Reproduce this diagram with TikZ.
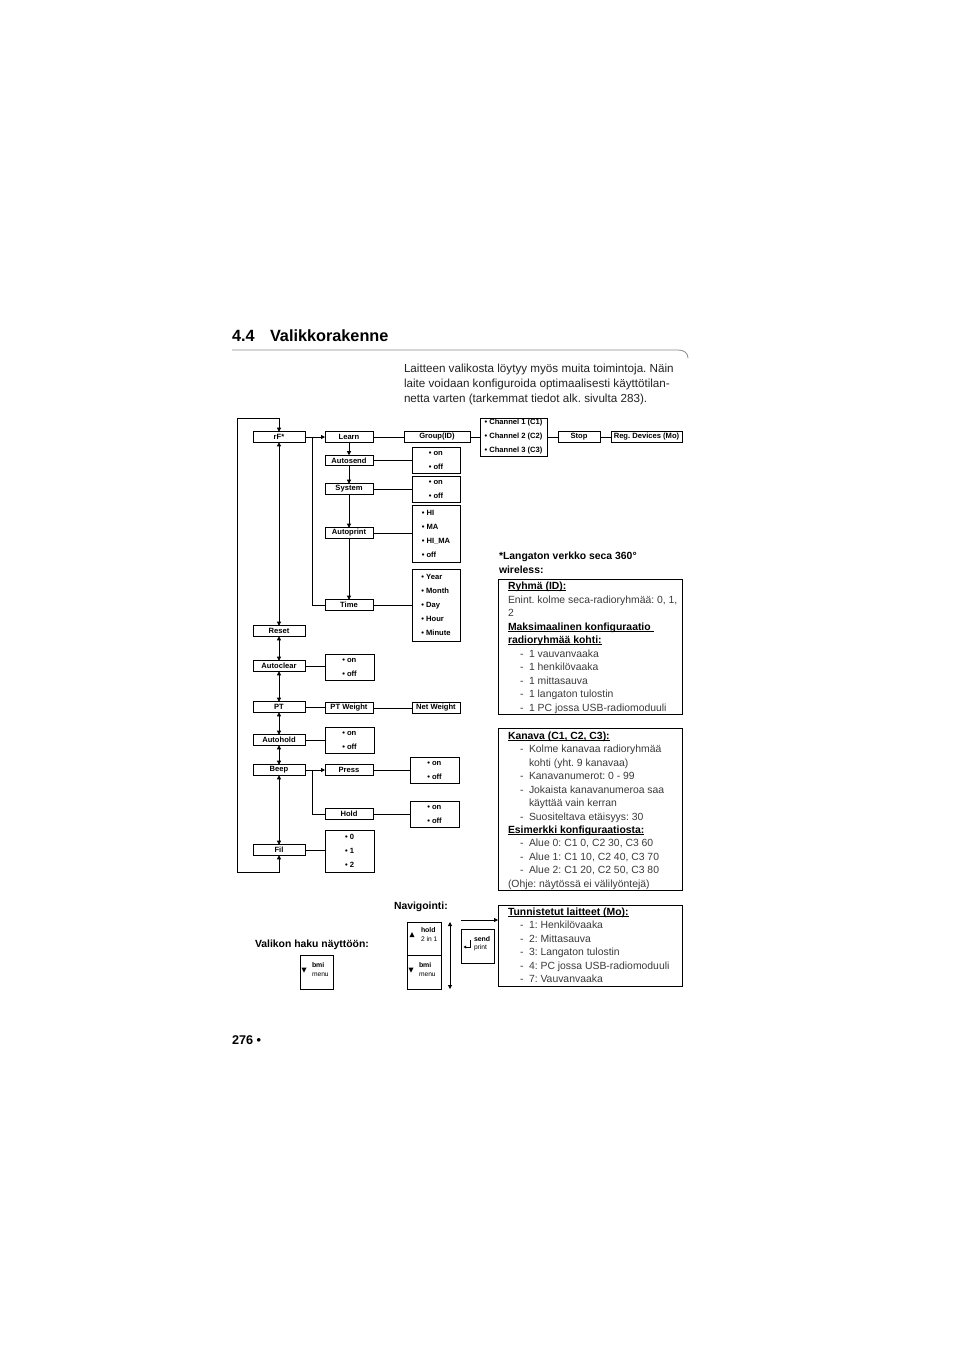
\documentclass[tikz,border=0pt]{standalone}
\usepackage{fontspec}
\setmainfont{Liberation Sans}
\usetikzlibrary{arrows.meta}
\definecolor{bodyc}{HTML}{3A3A3A}
\definecolor{rulec}{HTML}{8A8A8A}
\definecolor{parac}{HTML}{222222}
\newcommand\fs[2]{\fontsize{#1}{#2}\selectfont}
\newcommand\myul[1]{\setbox0\hbox{#1}\rlap{\rule[-1.3pt]{\wd0}{0.55pt}}\box0}
\newcommand\dsh{\makebox[6.75pt][l]{-}}
\frenchspacing
\begin{document}
\begin{tikzpicture}[x=0.75pt,y=-0.75pt,
  every node/.style={inner sep=0pt, outer sep=0pt},
  lbl/.style={draw, line width=0.7pt, minimum height=7.9pt, font=\bfseries\fs{5.7}{6}},
  lbox/.style={lbl, minimum width=39pt},
  mbox/.style={lbl, minimum width=36pt},
  opt/.style={draw, line width=0.7pt, align=left, font=\bfseries\fs{5.7}{10.5}},
  frame/.style={draw, line width=0.7pt, minimum width=138pt},
  ln/.style={line width=0.6pt},
  arr/.style={ln, -{Triangle[length=3pt,width=3pt]}},
  darr/.style={ln, {Triangle[length=3pt,width=3pt]}-{Triangle[length=3pt,width=3pt]}},
  txt/.style={anchor=base west, text=bodyc, font=\fs{7.8}{10}},
  hdr/.style={anchor=base west, text=black, font=\bfseries\fs{7.8}{10}},
  para/.style={anchor=base west, text=parac, font=\fs{8.75}{11}},
  btn/.style={draw, line width=0.6pt},
  bb/.style={anchor=base west, font=\bfseries\fs{5.2}{6}},
  bs/.style={anchor=base west, font=\fs{5}{6}},
]
\useasboundingbox (0,0) rectangle (954,1347);

% ---- header ----
\node[anchor=base west, font=\bfseries\fs{12.2}{14}] (tn) at (232,341.5) {4.4};
\node[anchor=base west, font=\bfseries\fs{12.2}{14}] (tt) at (270,341.5) {Valikkorakenne};
\draw[rulec, line width=0.6pt] (232,350) -- (678,350) .. controls (684,350) and (688,353) .. (688,358);
\node[para] (p1) at (404,372) {Laitteen valikosta löytyy myös muita toimintoja. Näin};
\node[para] (p2) at (404,387) {laite voidaan konfiguroida optimaalisesti käyttötilan-};
\node[para] (p3) at (404,402) {netta varten (tarkemmat tiedot alk. sivulta 283).};

% ---- left column ----
\node[lbox] (rf) at (279,437) {rF*};
\node[lbox] (reset) at (279,631) {Reset};
\node[lbox] (autoclear) at (279,666) {Autoclear};
\node[lbox] (pt) at (279,707) {PT};
\node[lbox] (autohold) at (279,740) {Autohold};
\node[lbox] (beep) at (279,770) {Beep};
\node[lbox] (fil) at (279,850) {Fil};

% ---- middle column ----
\node[mbox] (learn) at (349,437) {Learn};
\node[mbox] (autosend) at (349,460.5) {Autosend};
\node[mbox] (system) at (349,489) {System};
\node[mbox] (autoprint) at (349,533) {Autoprint};
\node[mbox] (time) at (349,605) {Time};
\node[mbox] (ptw) at (349,708) {PT Weight};
\node[mbox] (press) at (349,770) {Press};
\node[mbox] (hold) at (349,814) {Hold};

% ---- right of Learn ----
\node[lbl, minimum width=49.5pt] (group) at (437,437) {Group(ID)};
\node[opt, minimum width=50.25pt, minimum height=28.5pt] (chan) at (513.5,437) {• Channel 1 (C1)\\• Channel 2 (C2)\\• Channel 3 (C3)};
\node[lbl, minimum width=31.5pt] (stop) at (579,437) {Stop};
\node[lbl, minimum width=53.25pt] (reg) at (646.5,437) {Reg. Devices (Mo)};
\node[lbl, minimum width=36pt] (netw) at (436,708) {Net Weight};

% ---- option boxes ----
\node[opt, minimum width=36pt, minimum height=19.5pt] (o1) at (436,460) {• on\\• off};
\node[opt, minimum width=36pt, minimum height=19.5pt] (o2) at (436,489) {• on\\• off};
\node[opt, minimum width=36pt, minimum height=42.75pt] (o3) at (436,533.5) {• HI\\• MA\\• HI\_MA\\• off};
\node[opt, minimum width=36pt, minimum height=54pt] (o4) at (436,605) {• Year\\• Month\\• Day\\• Hour\\• Minute};
\node[opt, minimum width=36.75pt, minimum height=19.5pt] (o5) at (349.5,667) {• on\\• off};
\node[opt, minimum width=36.75pt, minimum height=19.5pt] (o6) at (349.5,740) {• on\\• off};
\node[opt, minimum width=36.75pt, minimum height=19.5pt] (o7) at (434.5,770) {• on\\• off};
\node[opt, minimum width=36.75pt, minimum height=19.5pt] (o8) at (434.5,814) {• on\\• off};
\node[opt, minimum width=36.75pt, minimum height=31.5pt] (o9) at (349.5,851) {• 0\\• 1\\• 2};

% ---- connectors ----
\coordinate (lt) at (237,418);
\coordinate (lb) at (237,872);
\draw[darr] (rf.north) |- (lt) -- (lb) -| (fil.south);
\draw[darr] (rf.south) -- (reset.north);
\draw[darr] (reset.south) -- (autoclear.north);
\draw[darr] (autoclear.south) -- (pt.north);
\draw[darr] (pt.south) -- (autohold.north);
\draw[darr] (autohold.south) -- (beep.north);
\draw[darr] (beep.south) -- (fil.north);

\coordinate (j1) at (312,437);
\draw[arr] (rf.east) -- (learn.west);
\draw[ln] (j1) |- (time.west);
\draw[arr] (learn.south) -- (autosend.north);
\draw[arr] (autosend.south) -- (system.north);
\draw[arr] (system.south) -- (autoprint.north);
\draw[arr] (autoprint.south) -- (time.north);
\draw[ln] (learn.east) -- (group.west);
\draw[ln] (group.east) -- (group.east -| chan.west);
\draw[ln] (stop.west -| chan.east) -- (stop.west);
\draw[ln] (stop.east) -- (reg.west);
\draw[ln] (autosend.east) -- (autosend.east -| o1.west);
\draw[ln] (system.east) -- (system.east -| o2.west);
\draw[ln] (autoprint.east) -- (autoprint.east -| o3.west);
\draw[ln] (time.east) -- (time.east -| o4.west);
\draw[ln] (autoclear.east) -- (autoclear.east -| o5.west);
\draw[ln] (pt.east) -- (pt.east -| ptw.west);
\draw[ln] (ptw.east) -- (netw.west);
\draw[ln] (autohold.east) -- (autohold.east -| o6.west);
\coordinate (j2) at (312,770);
\draw[arr] (beep.east) -- (press.west);
\draw[ln] (j2) |- (hold.west);
\draw[ln] (press.east) -- (press.east -| o7.west);
\draw[ln] (hold.east) -- (hold.east -| o8.west);
\draw[ln] (fil.east) -- (fil.east -| o9.west);

% ---- right info boxes ----
\node[hdr] (h1) at (499,559) {*Langaton verkko seca 360°};
\node[hdr] (h2) at (499,573) {wireless:};

\node[frame, minimum height=101.25pt] (b1) at (590,646.5) {};
\node[hdr] (a1) at (508,589) {\myul{Ryhmä (ID):}};
\node[txt] (a2) at (508,603) {Enint. kolme seca-radioryhmää: 0, 1,};
\node[txt] (a3) at (508,616) {2};
\node[hdr] (a4) at (508,630) {\myul{Maksimaalinen konfiguraatio\ }};
\node[hdr] (a5) at (508,643) {\myul{radioryhmää kohti:}};
\node[txt] (a6) at (520,657) {\dsh 1 vauvanvaaka};
\node[txt] (a7) at (520,670) {\dsh 1 henkilövaaka};
\node[txt] (a8) at (520,684) {\dsh 1 mittasauva};
\node[txt] (a9) at (520,697) {\dsh 1 langaton tulostin};
\node[txt] (a10) at (520,711) {\dsh 1 PC jossa USB-radiomoduuli};

\node[frame, minimum height=121.5pt] (b2) at (590,809) {};
\node[hdr] (c1) at (508,739) {\myul{Kanava (C1, C2, C3):}};
\node[txt] (c2) at (520,752) {\dsh Kolme kanavaa radioryhmää};
\node[txt] (c3) at (529,766) {kohti (yht. 9 kanavaa)};
\node[txt] (c4) at (520,779) {\dsh Kanavanumerot: 0 - 99};
\node[txt] (c5) at (520,793) {\dsh Jokaista kanavanumeroa saa};
\node[txt] (c6) at (529,806) {käyttää vain kerran};
\node[txt] (c7) at (520,820) {\dsh Suositeltava etäisyys: 30};
\node[hdr] (c8) at (508,833) {\myul{Esimerkki konfiguraatiosta:}};
\node[txt] (c9) at (520,846) {\dsh Alue 0: C1 0, C2 30, C3 60};
\node[txt] (c10) at (520,860) {\dsh Alue 1: C1 10, C2 40, C3 70};
\node[txt] (c11) at (520,873) {\dsh Alue 2: C1 20, C2 50, C3 80};
\node[txt] (c12) at (508,887) {(Ohje: näytössä ei välilyöntejä)};

\node[frame, minimum height=60.75pt] (b3) at (590,945.5) {};
\node[hdr] (d1) at (508,915) {\myul{Tunnistetut laitteet (Mo):}};
\node[txt] (d2) at (520,928) {\dsh 1: Henkilövaaka};
\node[txt] (d3) at (520,942) {\dsh 2: Mittasauva};
\node[txt] (d4) at (520,955) {\dsh 3: Langaton tulostin};
\node[txt] (d5) at (520,969) {\dsh 4: PC jossa USB-radiomoduuli};
\node[txt] (d6) at (520,982) {\dsh 7: Vauvanvaaka};

% ---- navigation ----
\node[hdr] (nav) at (394,909) {Navigointi:};
\node[hdr] (val) at (255,947) {Valikon haku näyttöön:};

\node[btn, minimum width=24.75pt, minimum height=25.5pt] (bv) at (316.5,972) {};
\fill (301.5,967.5) -- (306.5,967.5) -- (304,972.5) -- cycle;
\node[bb] (bv1) at (312,967) {bmi};
\node[bs] (bv2) at (312,976) {menu};

\node[btn, minimum width=25.5pt, minimum height=24.75pt] (bh) at (424,938.5) {};
\fill (409.5,937) -- (414.5,937) -- (412,932) -- cycle;
\node[bb] (bh1) at (421,932.5) {hold};
\node[bs] (bh2) at (421,941) {2 in 1};

\node[btn, minimum width=25.5pt, minimum height=25.5pt] (bm) at (424,972) {};
\fill (408.5,967.5) -- (413.5,967.5) -- (411,972.5) -- cycle;
\node[bb] (bm1) at (419,967) {bmi};
\node[bs] (bm2) at (419,976) {menu};

\node[btn, minimum width=24.75pt, minimum height=25.5pt] (bsend) at (477.5,946) {};
\draw[line width=0.5pt, -{Triangle[length=2pt,width=2.2pt]}] (470,940) -- (470,947) -- (463.5,947);
\node[bb] (bs1) at (474,941.5) {send};
\node[bs] (bs2) at (474,949.5) {print};

\coordinate (na) at (450,922);
\coordinate (nb) at (450,989);
\draw[darr] (na) -- (nb);
\coordinate (sa) at (461,920);
\draw[arr] (sa) -- (sa -| b3.west);

% ---- footer ----
\node[anchor=base west, font=\bfseries\fs{9.5}{11}] (pg) at (232,1044) {276 •};
\end{tikzpicture}
\end{document}
